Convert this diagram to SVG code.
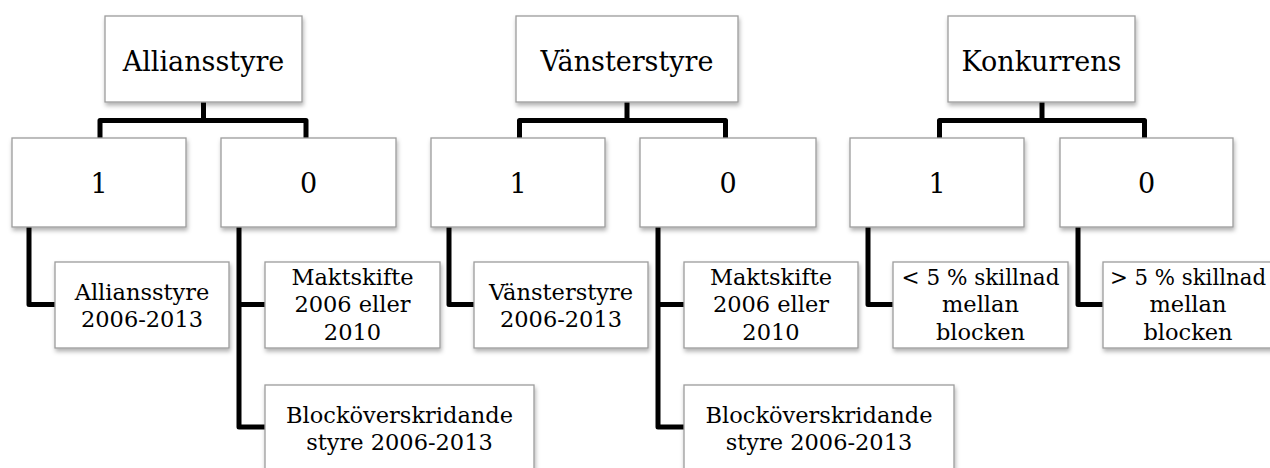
<svg xmlns="http://www.w3.org/2000/svg" width="1270" height="468" viewBox="0 0 1270 468">
<defs>
<filter id="sh" x="-10%" y="-10%" width="120%" height="130%">
<feDropShadow dx="1" dy="3" stdDeviation="2" flood-color="#000" flood-opacity="0.3"/>
</filter>
<style>
.box{fill:#fff;stroke:#9c9c9c;stroke-width:1.3;filter:url(#sh)}
.c{fill:none;stroke:#000;stroke-width:5;stroke-linejoin:round}
text{font-family:"DejaVu Serif","Liberation Serif",serif;fill:#000;text-anchor:middle}
.t{font-size:27px}
.l{font-size:22.5px}
</style>
</defs>
<rect width="1270" height="468" fill="#fff"/>
<g id="connectors">
<path class="c" d="M203.5,102 V120.5 M100,138 V120.5 H306 V138"/>
<path class="c" d="M29,227 V304.5 H55"/>
<path class="c" d="M239,227 V427 H265 M239,304.5 H265"/>
<path class="c" d="M627,102 V120.5 M519.5,138 V120.5 H725.5 V138"/>
<path class="c" d="M449,227 V304.5 H474"/>
<path class="c" d="M658,227 V427 H684 M658,304.5 H684"/>
<path class="c" d="M1042,102 V120.5 M939.5,138 V120.5 H1144.5 V138"/>
<path class="c" d="M868,227 V304.5 H893"/>
<path class="c" d="M1078,227 V304.5 H1103"/>
</g>
<g id="allians">
<rect class="box" x="105" y="16" width="197" height="86"/>
<text class="t" x="203.5" y="70.5">Alliansstyre</text>
</g>
<g id="allians-1">
<rect class="box" x="12" y="138" width="174" height="89"/>
<text class="t" x="99" y="193">1</text>
</g>
<g id="allians-0">
<rect class="box" x="221" y="138" width="175" height="89"/>
<text class="t" x="308.5" y="193">0</text>
</g>
<g id="allians-leaf">
<rect class="box" x="55" y="262" width="174" height="86"/>
<text class="l" x="142" y="300">Alliansstyre</text>
<text class="l" x="142" y="327">2006-2013</text>
</g>
<g id="allians-maktskifte">
<rect class="box" x="265" y="262" width="175" height="86"/>
<text class="l" x="352.5" y="285">Maktskifte</text>
<text class="l" x="352.5" y="312">2006 eller</text>
<text class="l" x="352.5" y="340">2010</text>
</g>
<g id="allians-block">
<rect class="box" x="265" y="385" width="269" height="100"/>
<text class="l" x="399.5" y="423">Blocköverskridande</text>
<text class="l" x="399.5" y="450">styre 2006-2013</text>
</g>
<g id="vanster">
<rect class="box" x="516" y="16" width="222" height="86"/>
<text class="t" x="627" y="70.5">Vänsterstyre</text>
</g>
<g id="vanster-1">
<rect class="box" x="431" y="138" width="174" height="89"/>
<text class="t" x="518" y="193">1</text>
</g>
<g id="vanster-0">
<rect class="box" x="640" y="138" width="176" height="89"/>
<text class="t" x="728" y="193">0</text>
</g>
<g id="vanster-leaf">
<rect class="box" x="474" y="262" width="174" height="86"/>
<text class="l" x="561" y="300">Vänsterstyre</text>
<text class="l" x="561" y="327">2006-2013</text>
</g>
<g id="vanster-maktskifte">
<rect class="box" x="684" y="262" width="174" height="86"/>
<text class="l" x="771" y="285">Maktskifte</text>
<text class="l" x="771" y="312">2006 eller</text>
<text class="l" x="771" y="340">2010</text>
</g>
<g id="vanster-block">
<rect class="box" x="684" y="385" width="270" height="100"/>
<text class="l" x="819" y="423">Blocköverskridande</text>
<text class="l" x="819" y="450">styre 2006-2013</text>
</g>
<g id="konkurrens">
<rect class="box" x="948" y="16" width="187" height="86"/>
<text class="t" x="1041.5" y="70.5">Konkurrens</text>
</g>
<g id="konkurrens-1">
<rect class="box" x="850" y="138" width="174" height="89"/>
<text class="t" x="937" y="193">1</text>
</g>
<g id="konkurrens-0">
<rect class="box" x="1060" y="138" width="173" height="89"/>
<text class="t" x="1146.5" y="193">0</text>
</g>
<g id="konkurrens-lt">
<rect class="box" x="893" y="262" width="175" height="86"/>
<text class="l" x="980.5" y="285" textLength="158" lengthAdjust="spacingAndGlyphs">&lt; 5 % skillnad</text>
<text class="l" x="980.5" y="312">mellan</text>
<text class="l" x="980.5" y="340">blocken</text>
</g>
<g id="konkurrens-gt">
<rect class="box" x="1103" y="262" width="175" height="86"/>
<text class="l" x="1188" y="285" textLength="156" lengthAdjust="spacingAndGlyphs">&gt; 5 % skillnad</text>
<text class="l" x="1188" y="312">mellan</text>
<text class="l" x="1188" y="340">blocken</text>
</g>
</svg>
